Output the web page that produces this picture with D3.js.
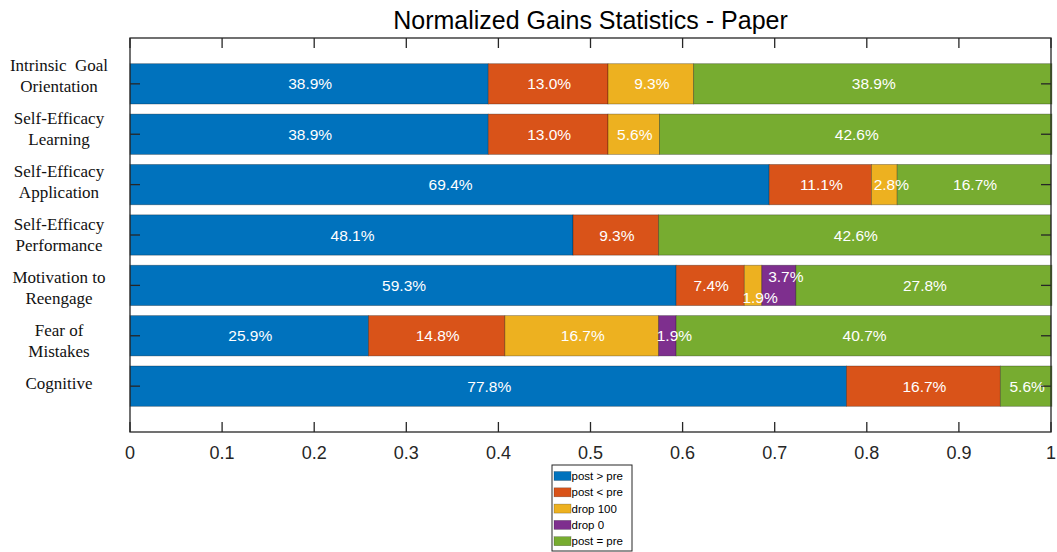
<!DOCTYPE html>
<html>
<head>
<meta charset="utf-8">
<script src="https://cdn.jsdelivr.net/npm/d3@7"></script>
<style>
  html, body { margin: 0; padding: 0; background: #fff; }
  svg { display: block; }
</style>
</head>
<body>
<svg id="chart" width="1057" height="552"></svg>
<script>
// ---------- data ----------
const title = "Normalized Gains Statistics - Paper";
const categories = [
  ["Intrinsic  Goal", "Orientation"],
  ["Self-Efficacy", "Learning"],
  ["Self-Efficacy", "Application"],
  ["Self-Efficacy", "Performance"],
  ["Motivation to", "Reengage"],
  ["Fear of", "Mistakes"],
  ["Cognitive"]
];
const seriesNames = ["post > pre", "post < pre", "drop 100", "drop 0", "post = pre"];
const postGreater = [0.389, 0.389, 0.694, 0.481, 0.593, 0.259, 0.778];
const postLess    = [0.130, 0.130, 0.111, 0.093, 0.074, 0.148, 0.167];
const drop100     = [0.093, 0.056, 0.028, 0.000, 0.019, 0.167, 0.000];
const drop0       = [0.000, 0.000, 0.000, 0.000, 0.037, 0.019, 0.000];
const postEqual   = [0.389, 0.426, 0.167, 0.426, 0.278, 0.407, 0.056];
const xTicks = [0, 0.1, 0.2, 0.3, 0.4, 0.5, 0.6, 0.7, 0.8, 0.9, 1];
const colors = ["#0072BD", "#D95319", "#EDB120", "#7E2F8E", "#77AC30"];

// ---------- layout ----------
const svg = d3.select("#chart");
const L = 130, R = 1051, T = 38, B = 432;
const catKeys = categories.map((c, i) => "c" + i);

const x = d3.scaleLinear().domain([0, 1]).range([L, R]);
const y = d3.scaleBand().domain(catKeys).range([T, B]).paddingInner(0.2).paddingOuter(0.51);
const labelY = d3.scalePoint().domain(catKeys).range([65, 383]);
const color = d3.scaleOrdinal().domain(seriesNames).range(colors);

const rows = catKeys.map((k, i) => ({
  key: k,
  "post > pre": postGreater[i],
  "post < pre": postLess[i],
  "drop 100": drop100[i],
  "drop 0": drop0[i],
  "post = pre": postEqual[i]
}));
const stacked = d3.stack().keys(seriesNames)(rows);

// ---------- bars ----------
const gBars = svg.append("g");
stacked.forEach(layer => {
  gBars.selectAll(null)
    .data(layer.filter(d => d[1] - d[0] > 0))
    .join("rect")
    .attr("x", d => x(d[0]))
    .attr("y", d => y(d.data.key))
    .attr("width", d => x(d[1]) - x(d[0]))
    .attr("height", y.bandwidth())
    .attr("fill", color(layer.key))
    .attr("stroke", "#000")
    .attr("stroke-opacity", 0.35)
    .attr("stroke-width", 0.8);
});

// ---------- bar labels ----------
const gLab = svg.append("g")
  .attr("font-family", "Liberation Sans, Arial, sans-serif")
  .attr("font-size", 15.5)
  .attr("fill", "#fff")
  .attr("text-anchor", "middle");
rows.forEach((row, ri) => {
  const segs = [];
  stacked.forEach(layer => {
    const d = layer[ri];
    if (d[1] - d[0] > 0) segs.push({ v: d[1] - d[0], a: d[0], b: d[1] });
  });
  segs.forEach((s, si) => {
    const small = s.v < 0.04;
    const prevSmall = si > 0 && segs[si - 1].v < 0.04;
    const nextSmall = si < segs.length - 1 && segs[si + 1].v < 0.04;
    let dy = 0;
    if (small && nextSmall) dy = 12;
    else if (small && prevSmall) dy = -9;
    const dx = small ? 7 : 1;
    gLab.append("text")
      .attr("x", x((s.a + s.b) / 2) + dx)
      .attr("y", y(row.key) + y.bandwidth() / 2 + dy)
      .attr("dy", "0.36em")
      .text((s.v * 100).toFixed(1) + "%");
  });
});

// ---------- axes box & ticks ----------
const axisColor = "#262626";
const tickLen = 10;
const gAx = svg.append("g").attr("stroke", axisColor).attr("stroke-width", 1.3);
gAx.append("rect").attr("x", L).attr("y", T).attr("width", R - L).attr("height", B - T)
  .attr("fill", "none");
xTicks.forEach(t => {
  gAx.append("line").attr("x1", x(t)).attr("x2", x(t)).attr("y1", B).attr("y2", B - tickLen);
  gAx.append("line").attr("x1", x(t)).attr("x2", x(t)).attr("y1", T).attr("y2", T + tickLen);
});
catKeys.forEach(k => {
  const cy = y(k) + y.bandwidth() / 2;
  gAx.append("line").attr("x1", L).attr("x2", L + tickLen).attr("y1", cy).attr("y2", cy);
  gAx.append("line").attr("x1", R).attr("x2", R - tickLen).attr("y1", cy).attr("y2", cy);
});

// x tick labels
svg.append("g")
  .attr("font-family", "Liberation Sans, Arial, sans-serif")
  .attr("font-size", 18)
  .attr("fill", "#262626")
  .attr("text-anchor", "middle")
  .selectAll("text").data(xTicks).join("text")
  .attr("x", d => x(d))
  .attr("y", 459)
  .text(d => d3.format("~g")(d));

// y category labels
const gCat = svg.append("g")
  .attr("font-family", "Liberation Serif, Times New Roman, serif")
  .attr("font-size", 17)
  .attr("fill", "#111")
  .attr("text-anchor", "middle");
categories.forEach((lines, i) => {
  const t = gCat.append("text").attr("x", 59).attr("y", labelY(catKeys[i])).attr("dy", "0.35em")
    .style("white-space", "pre");
  lines.forEach((ln, j) => {
    t.append("tspan").attr("x", 59).attr("dy", j === 0 ? "0.35em" : 21).text(ln);
  });
});

// title
svg.append("text")
  .attr("x", (L + R) / 2)
  .attr("y", 29)
  .attr("text-anchor", "middle")
  .attr("font-family", "Liberation Sans, Arial, sans-serif")
  .attr("font-size", 25)
  .attr("fill", "#000")
  .text(title);

// ---------- legend ----------
const lg = svg.append("g").attr("transform", "translate(552,465)");
lg.append("rect").attr("x", 0).attr("y", 0).attr("width", 80).attr("height", 86)
  .attr("fill", "#fff").attr("stroke", "#262626").attr("stroke-width", 1);
seriesNames.forEach((name, i) => {
  const cy = 11 + i * 16.3;
  lg.append("rect").attr("x", 2).attr("y", cy - 4.5).attr("width", 17).attr("height", 9)
    .attr("fill", color(name)).attr("stroke", "#000").attr("stroke-opacity", 0.35).attr("stroke-width", 0.6);
  lg.append("text").attr("x", 19.5).attr("y", cy).attr("dy", "0.35em")
    .attr("font-family", "Liberation Sans, Arial, sans-serif")
    .attr("font-size", 11.5).attr("fill", "#000").text(name);
});
</script>
</body>
</html>
